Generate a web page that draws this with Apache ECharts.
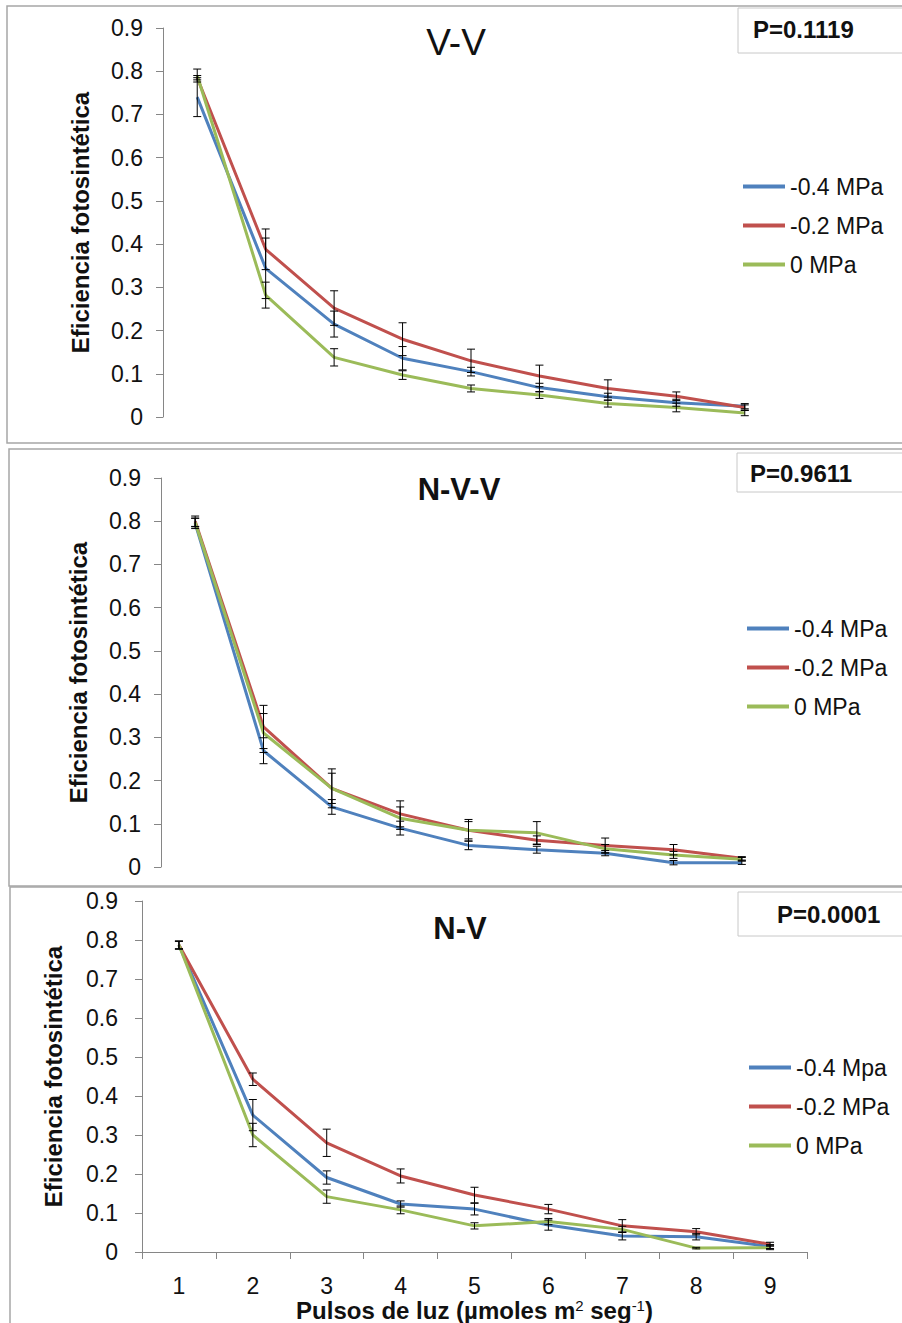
<!DOCTYPE html>
<html>
<head>
<meta charset="utf-8">
<script src="https://cdn.jsdelivr.net/npm/echarts@6/dist/echarts.min.js"></script>
<style>
  html, body { margin: 0; padding: 0; background: #fff; }
  #main { width: 902px; height: 1323px; }
</style>
</head>
<body>
<div id="main"></div>
<script>
var pulsos = ['1', '2', '3', '4', '5', '6', '7', '8', '9'];

// V-V
var vvBlue = [0.74, 0.344, 0.215, 0.136, 0.105, 0.068, 0.047, 0.033, 0.025];
var vvBlueErr = [0.045, 0.07, 0.03, 0.027, 0.01, 0.01, 0.008, 0.008, 0.006];
var vvRed = [0.785, 0.388, 0.252, 0.18, 0.13, 0.095, 0.066, 0.048, 0.022];
var vvRedErr = [0.005, 0.047, 0.04, 0.038, 0.027, 0.025, 0.02, 0.01, 0.006];
var vvGreen = [0.79, 0.282, 0.138, 0.097, 0.066, 0.051, 0.031, 0.022, 0.009];
var vvGreenErr = [0.015, 0.03, 0.02, 0.01, 0.008, 0.008, 0.008, 0.01, 0.006];

// N-V-V
var nvvBlue = [0.795, 0.269, 0.139, 0.09, 0.05, 0.04, 0.032, 0.01, 0.01];
var nvvBlueErr = [0.012, 0.03, 0.017, 0.016, 0.01, 0.008, 0.006, 0.005, 0.004];
var nvvRed = [0.8, 0.324, 0.182, 0.123, 0.085, 0.062, 0.05, 0.04, 0.02];
var nvvRedErr = [0.012, 0.05, 0.045, 0.03, 0.025, 0.01, 0.017, 0.012, 0.004];
var nvvGreen = [0.797, 0.31, 0.182, 0.113, 0.085, 0.079, 0.042, 0.028, 0.018];
var nvvGreenErr = [0.01, 0.045, 0.035, 0.026, 0.02, 0.026, 0.01, 0.008, 0.004];

// N-V
var nvBlue = [0.787, 0.351, 0.191, 0.123, 0.11, 0.069, 0.041, 0.039, 0.014];
var nvBlueErr = [0.01, 0.04, 0.017, 0.008, 0.015, 0.013, 0.01, 0.008, 0.005];
var nvRed = [0.787, 0.443, 0.28, 0.195, 0.146, 0.11, 0.067, 0.052, 0.02];
var nvRedErr = [0.01, 0.016, 0.035, 0.018, 0.02, 0.012, 0.016, 0.008, 0.005];
var nvGreen = [0.787, 0.3, 0.142, 0.108, 0.067, 0.078, 0.058, 0.01, 0.011];
var nvGreenErr = [0.01, 0.03, 0.017, 0.01, 0.008, 0.008, 0.008, 0.002, 0.005];

var names12 = ['-0.4 MPa', '-0.2 MPa', '0 MPa'];
var names3 = ['-0.4 Mpa', '-0.2 MPa', '0 MPa'];
var colors = ['#4F81BD', '#C0504D', '#9BBB59'];
var font = '"Liberation Sans", Arial, sans-serif';

var panels = [
  { vals: [vvBlue, vvRed, vvGreen], errs: [vvBlueErr, vvRedErr, vvGreenErr], names: names12 },
  { vals: [nvvBlue, nvvRed, nvvGreen], errs: [nvvBlueErr, nvvRedErr, nvvGreenErr], names: names12 },
  { vals: [nvBlue, nvRed, nvGreen], errs: [nvBlueErr, nvRedErr, nvGreenErr], names: names3 }
];

function errRender(params, api) {
  var x = api.value(0);
  var lo = api.coord([x, api.value(1)]);
  var hi = api.coord([x, api.value(2)]);
  var w = 4;
  var st = { stroke: '#000', lineWidth: 1 };
  return {
    type: 'group',
    children: [
      { type: 'line', shape: { x1: lo[0], y1: lo[1], x2: hi[0], y2: hi[1] }, style: st },
      { type: 'line', shape: { x1: lo[0] - w, y1: lo[1], x2: lo[0] + w, y2: lo[1] }, style: st },
      { type: 'line', shape: { x1: hi[0] - w, y1: hi[1], x2: hi[0] + w, y2: hi[1] }, style: st }
    ]
  };
}

var grids = [
  { left: 163, top: 28, width: 616, height: 389 },
  { left: 161, top: 478, width: 615, height: 389 },
  { left: 142, top: 901, width: 665, height: 351 }
];
var nameGaps = [71, 71, 77];
var labelMargins = [20, 20, 24];

var xAxes = [], yAxes = [], series = [];
panels.forEach(function (p, k) {
  var last = k === 2;
  xAxes.push({
    type: 'category',
    gridIndex: k,
    data: pulsos,
    boundaryGap: true,
    axisLine: { show: last, lineStyle: { color: '#868686', width: 1 } },
    axisTick: { show: last, length: 7, lineStyle: { color: '#868686' } },
    axisLabel: { show: last, margin: 22, fontSize: 23, color: '#111', fontFamily: font },
    splitLine: { show: false },
    name: last ? '{b|Pulsos de luz (µmoles m}{s|2}{b| seg}{s|-1}{b|)}' : '',
    nameLocation: 'middle',
    nameGap: 46,
    nameTextStyle: {
      rich: {
        b: { fontSize: 24, fontWeight: 'bold', color: '#111', fontFamily: font },
        s: { fontSize: 15, fontWeight: 'normal', color: '#111', fontFamily: font, verticalAlign: 'top' }
      }
    }
  });
  yAxes.push({
    type: 'value',
    gridIndex: k,
    min: 0,
    max: 0.9,
    interval: 0.1,
    axisLine: { show: true, lineStyle: { color: '#868686', width: 1 } },
    axisTick: { show: true, length: 7, lineStyle: { color: '#868686' } },
    axisLabel: { margin: labelMargins[k], fontSize: 23, color: '#111', fontFamily: font },
    splitLine: { show: false },
    name: 'Eficiencia fotosintética',
    nameLocation: 'middle',
    nameGap: nameGaps[k],
    nameTextStyle: { fontSize: 24, fontWeight: 'bold', color: '#111', fontFamily: font }
  });
  p.vals.forEach(function (v, j) {
    series.push({
      type: 'line',
      name: p.names[j],
      xAxisIndex: k,
      yAxisIndex: k,
      data: v,
      showSymbol: false,
      symbol: 'none',
      color: colors[j],
      lineStyle: { width: 3, color: colors[j] },
      z: 2,
      silent: true
    });
  });
  p.vals.forEach(function (v, j) {
    series.push({
      type: 'custom',
      xAxisIndex: k,
      yAxisIndex: k,
      renderItem: errRender,
      encode: { x: 0, y: [1, 2] },
      data: v.map(function (m, i) { return [i, m - p.errs[j][i], m + p.errs[j][i]]; }),
      z: 3,
      silent: true
    });
  });
});

function legendAt(names, left, top) {
  return {
    data: names,
    orient: 'vertical',
    left: left,
    top: top,
    padding: 0,
    icon: 'rect',
    itemWidth: 42,
    itemHeight: 4,
    itemGap: 16,
    selectedMode: false,
    textStyle: { fontSize: 23, color: '#111', fontFamily: font }
  };
}

function box(x, y, w, h, color, lw) {
  return { type: 'rect', shape: { x: x, y: y, width: w, height: h }, style: { fill: 'none', stroke: color, lineWidth: lw }, z: 0, silent: true };
}
function label(text, x, y, f, align) {
  return { type: 'text', x: x, y: y, style: { text: text, font: f, fill: '#111', align: align, verticalAlign: 'middle' }, z: 10, silent: true };
}

var chart = echarts.init(document.getElementById('main'), null, { renderer: 'svg' });
chart.setOption({
  animation: false,
  backgroundColor: '#fff',
  grid: grids,
  xAxis: xAxes,
  yAxis: yAxes,
  legend: [
    legendAt(names12, 743, 175),
    legendAt(names12, 747, 617),
    legendAt(names3, 749, 1056)
  ],
  series: series,
  graphic: [
    box(7, 6, 910, 437, '#A6A6A6', 1.5),
    box(9, 449, 910, 437, '#A6A6A6', 1.5),
    box(10, 887, 910, 450, '#A6A6A6', 1.5),
    box(738, 8, 200, 45, '#C8C8C8', 1),
    box(737, 453, 200, 39, '#C8C8C8', 1),
    box(738, 892, 200, 44, '#C8C8C8', 1),
    label('V-V', 456, 42, 'normal 37px ' + font, 'center'),
    label('N-V-V', 459, 489, 'bold 31px ' + font, 'center'),
    label('N-V', 460, 928, 'bold 31px ' + font, 'center'),
    label('P=0.1119', 753, 29, 'bold 24px ' + font, 'left'),
    label('P=0.9611', 750, 473, 'bold 24px ' + font, 'left'),
    label('P=0.0001', 777, 914, 'bold 24px ' + font, 'left')
  ]
});
</script>
</body>
</html>
